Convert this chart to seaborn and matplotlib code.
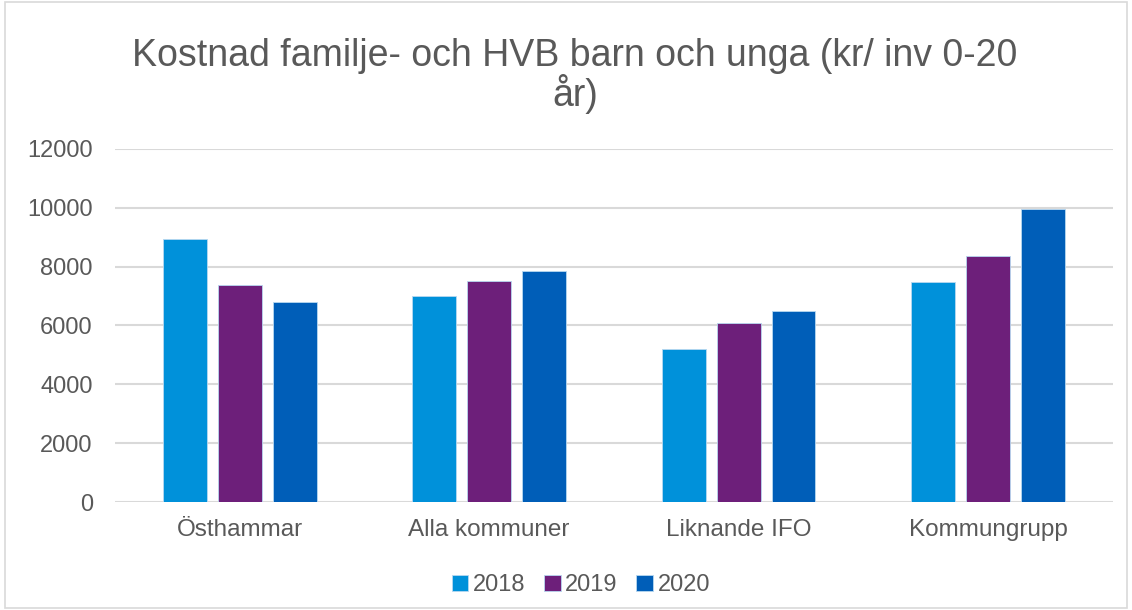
import pandas as pd
import matplotlib
matplotlib.use("Agg")
import matplotlib.pyplot as plt
import seaborn as sns
from matplotlib.patches import Rectangle

# data
kategorier = ["Östhammar", "Alla kommuner", "Liknande IFO", "Kommungrupp"]
ar = ["2018", "2019", "2020"]
v2018 = [8930, 7010, 5190, 7460]
v2019 = [7380, 7520, 6080, 8360]
v2020 = [6800, 7850, 6490, 9940]
farger = ["#0091da", "#6d1f7a", "#005eb8"]
yticks = [0, 2000, 4000, 6000, 8000, 10000, 12000]
titel = "Kostnad familje- och HVB barn och unga (kr/ inv 0-20\når)"

df = pd.DataFrame({
    "kategori": kategorier * 3,
    "ar": [a for a in ar for _ in kategorier],
    "kostnad": v2018 + v2019 + v2020,
})

sns.set_style("white")
plt.rcParams["font.family"] = ["Liberation Sans", "DejaVu Sans"]
grey = "#595959"

fig = plt.figure(figsize=(11.32, 6.10), dpi=100)
ax = fig.add_axes([0.1016, 0.177, 0.8814, 0.579])

sns.barplot(data=df, x="kategori", y="kostnad", hue="ar", palette=farger,
            width=0.66, gap=0.2, edgecolor="#b8d8f0", linewidth=0.6,
            saturation=1, ax=ax, zorder=3)

ax.set_ylim(0, 12000)
ax.set_yticks(yticks)
ax.set_xlim(-0.5, 3.5)
ax.yaxis.grid(True, color="#d9d9d9", linewidth=1.5, zorder=0)
ax.set_axisbelow(True)
for s in ax.spines.values():
    s.set_visible(False)
ax.set_xlabel("")
ax.set_ylabel("")
ax.tick_params(axis="y", length=0, labelsize=17, colors=grey, pad=16)
ax.tick_params(axis="x", length=0, labelsize=17.5, colors=grey, pad=12)

fig.text(0.508, 0.937, titel, ha="center", va="top", fontsize=27,
         color=grey, linespacing=1.0)

leg = ax.legend(loc="center", bbox_to_anchor=(0.467, -0.235), ncol=3,
                frameon=False, fontsize=17, handlelength=0.7,
                handleheight=0.7, handletextpad=0.2, columnspacing=0.78)
for t in leg.get_texts():
    t.set_color(grey)

fig.patches.append(Rectangle((0.004, 0.004), 0.992, 0.992, transform=fig.transFigure,
                             fill=False, edgecolor="#d9d9d9", linewidth=1.2))

fig.savefig("out.png", dpi=100)
